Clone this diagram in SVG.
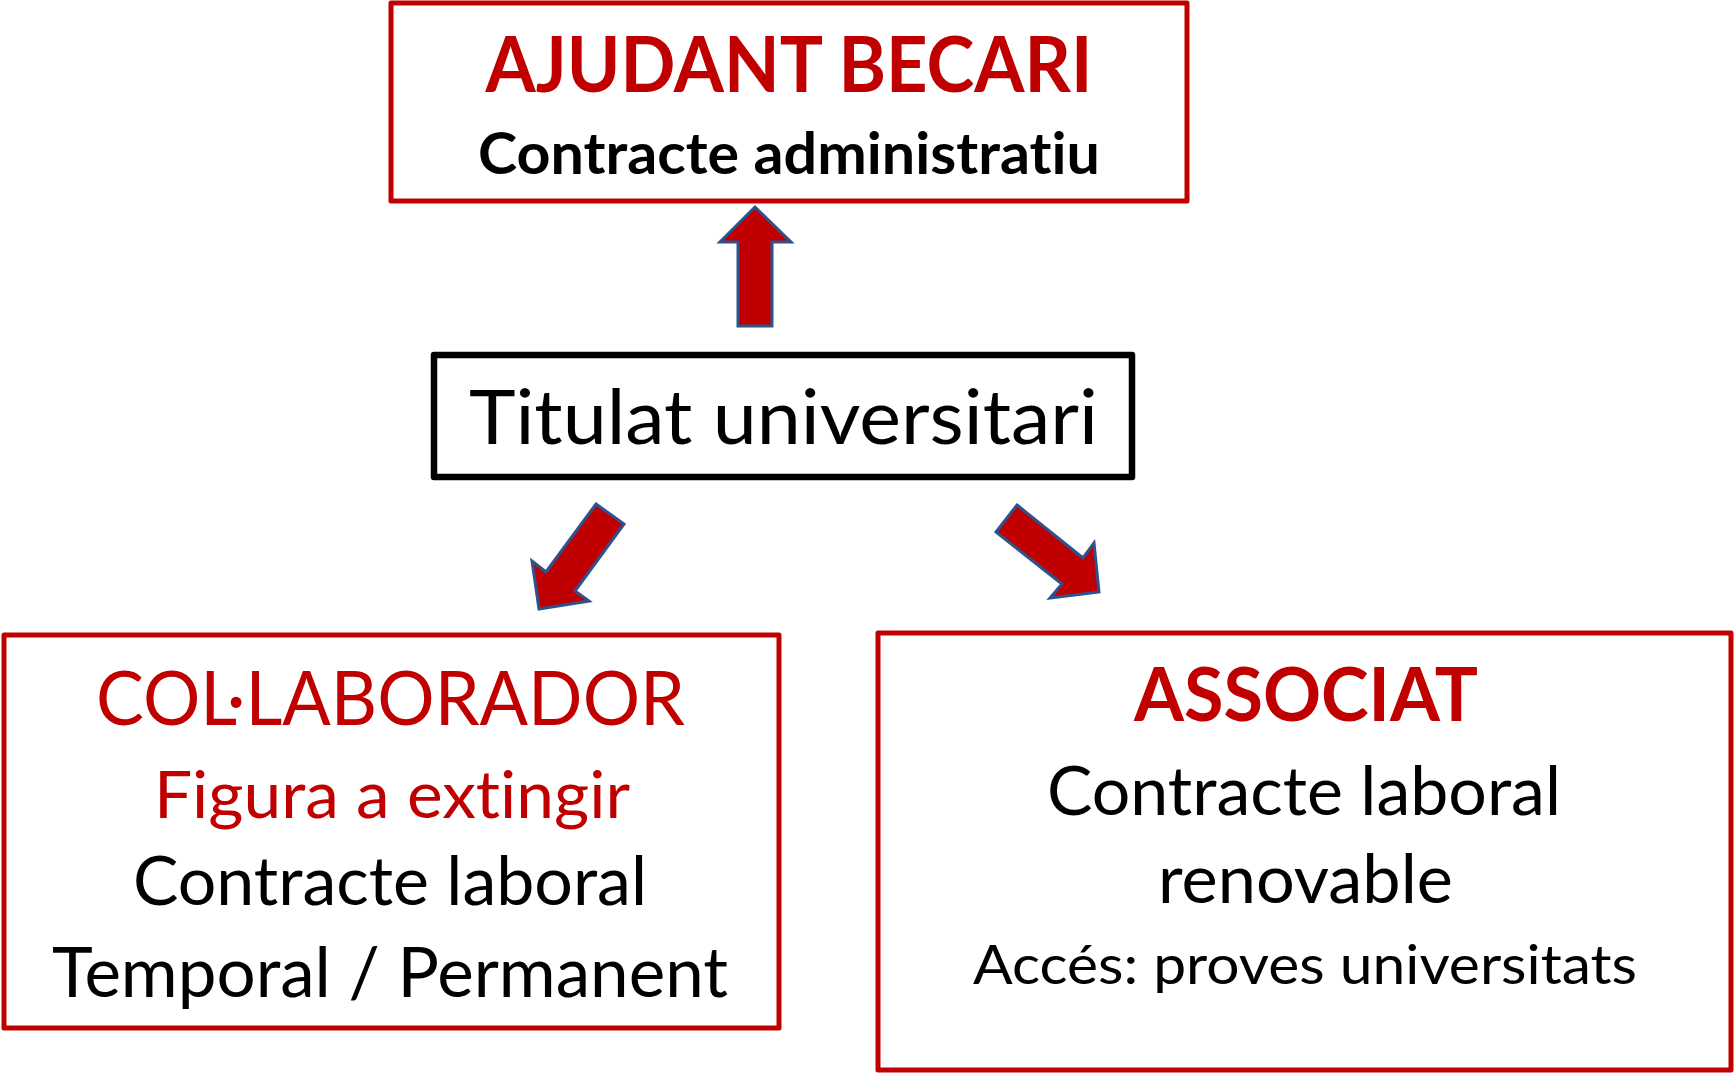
<svg xmlns="http://www.w3.org/2000/svg" width="1734" height="1074" viewBox="0 0 1734 1074">
<style>
.box{fill:#fff;stroke:#C00000;stroke-width:5;stroke-linejoin:round}
.boxk{fill:#fff;stroke:#000;stroke-width:6.5;stroke-linejoin:round}
.arr{fill:#C00000;stroke:#2F528F;stroke-width:3;stroke-linejoin:miter}
text{font-family:Lato,"Open Sans","Liberation Sans",sans-serif;text-anchor:middle;font-variant-ligatures:none;font-feature-settings:"liga" 0,"dlig" 0}
.red{fill:#C00000}
.blk{fill:#000}
.b{font-weight:bold}
</style>
<rect width="1734" height="1074" fill="#fff"/>
<g id="connectors">
<polygon class="arr" points="755,207 791,242 772,242 772,326 738,326 738,242 720,242"/>
<polygon class="arr" points="596,504 624,524 575,591 589,601 539,609 532,561 546,572"/>
<polygon class="arr" points="1017,505 1083,558 1094,543 1099,592 1050,598 1062,584 996,532"/>
</g>
<g id="ajudant">
<rect class="box" x="391" y="3" width="796" height="198"/>
<text class="red b" x="789" y="92" font-size="77" textLength="607" lengthAdjust="spacingAndGlyphs">AJUDANT BECARI</text>
<text class="blk b" x="789" y="174" font-size="57" textLength="622" lengthAdjust="spacingAndGlyphs">Contracte administratiu</text>
</g>
<g id="titulat">
<rect class="boxk" x="434" y="355" width="698" height="122"/>
<text class="blk" x="783.5" y="444" font-size="75" textLength="629" lengthAdjust="spacingAndGlyphs">Titulat universitari</text>
</g>
<g id="collaborador">
<rect class="box" x="4" y="635" width="775" height="393"/>
<text class="red" x="390.5" y="725" font-size="76" textLength="589" lengthAdjust="spacingAndGlyphs">COL·LABORADOR</text>
<text class="red" x="392" y="818" font-size="65" textLength="476" lengthAdjust="spacingAndGlyphs">Figura a extingir</text>
<text class="blk" x="390" y="905" font-size="68" textLength="514" lengthAdjust="spacingAndGlyphs">Contracte laboral</text>
<text class="blk" x="390" y="997" font-size="69" textLength="676" lengthAdjust="spacingAndGlyphs">Temporal / Permanent</text>
</g>
<g id="associat">
<rect class="box" x="878" y="633" width="853" height="437"/>
<text class="red b" x="1306" y="721" font-size="74" textLength="344" lengthAdjust="spacingAndGlyphs">ASSOCIAT</text>
<text class="blk" x="1304" y="815" font-size="67" textLength="514" lengthAdjust="spacingAndGlyphs">Contracte laboral</text>
<text class="blk" x="1305.5" y="903" font-size="67" textLength="295" lengthAdjust="spacingAndGlyphs">renovable</text>
<text class="blk" x="1305" y="984" font-size="54" textLength="664" lengthAdjust="spacingAndGlyphs">Accés: proves universitats</text>
</g>
</svg>
